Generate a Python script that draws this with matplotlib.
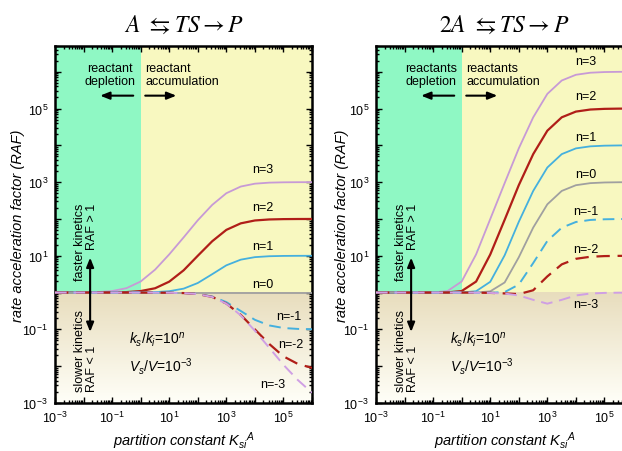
"""Rate acceleration factor vs partition constant for A and 2A reaction schemes."""

import numpy as np
import matplotlib
matplotlib.use('Agg')
import matplotlib.pyplot as plt
from matplotlib.colors import LinearSegmentedColormap
from matplotlib.ticker import LogLocator, NullFormatter

plt.rcParams['font.family'] = ['Liberation Sans', 'DejaVu Sans']
plt.rcParams['mathtext.fontset'] = 'custom'
plt.rcParams['mathtext.rm'] = 'Liberation Sans'
plt.rcParams['mathtext.it'] = 'Liberation Sans:italic'

# partition constant samples (half-decade)
K = [1e-3, 3.2e-3, 1e-2, 3.2e-2, 0.1, 0.32, 1, 3.2, 10, 32, 100, 320,
     1e3, 3.2e3, 1e4, 3.2e4, 1e5, 3.2e5, 1e6]

N_LABELS = ['n=3', 'n=2', 'n=1', 'n=0', 'n=-1', 'n=-2', 'n=-3']

# A <-> TS -> P
RAF_A_N3 = [1.0, 1.003, 1.01, 1.03, 1.1, 1.32, 2.0, 4.2, 10.9, 31.6, 92, 241,
            500, 760, 909, 970, 990, 997, 999]
RAF_A_N2 = [1.0, 1.0, 1.0, 1.003, 1.01, 1.03, 1.1, 1.31, 1.98, 4.03, 10.0, 24.8,
            50.5, 76, 91, 97, 99, 99.7, 99.9]
RAF_A_N1 = [1.0, 1.0, 1.0, 1.0, 1.0, 1.003, 1.01, 1.03, 1.09, 1.28, 1.82, 3.16,
            5.5, 7.84, 9.18, 9.72, 9.91, 9.97, 9.99]
RAF_A_N0 = [1.0] * 19
RAF_A_NM1 = [1.0, 1.0, 1.0, 1.0, 1.0, 1.0, 1.0, 0.997, 0.991, 0.972, 0.918, 0.784,
             0.55, 0.316, 0.182, 0.128, 0.109, 0.103, 0.101]
RAF_A_NM2 = [1.0, 1.0, 1.0, 1.0, 1.0, 1.0, 1.0, 0.997, 0.99, 0.97, 0.91, 0.762,
             0.505, 0.248, 0.10, 0.040, 0.0185, 0.0115, 0.009]
RAF_A_NM3 = [1.0, 1.0, 1.0, 1.0, 1.0, 1.0, 1.0, 0.997, 0.99, 0.969, 0.909, 0.76,
             0.50, 0.241, 0.092, 0.0316, 0.0109, 0.0042, 0.0019]

# 2A <-> TS -> P
RAF_2A_N3 = [1.0, 1.0, 1.0, 1.001, 1.01, 1.1, 2.0, 10.9, 99, 941, 8265, 5.77e4,
             2.5e5, 5.78e5, 8.26e5, 9.4e5, 9.8e5, 9.94e5, 9.98e5]
RAF_2A_N2 = [1.0, 1.0, 1.0, 1.0, 1.001, 1.01, 1.1, 1.99, 10.8, 94.9, 827, 5774,
             2.5e4, 5.78e4, 8.26e4, 9.4e4, 9.8e4, 9.94e4, 9.98e4]
RAF_2A_N1 = [1.0, 1.0, 1.0, 1.0, 1.0, 1.001, 1.008, 1.09, 1.96, 10.3, 83.5, 578,
             2500, 5780, 8264, 9400, 9800, 9940, 9980]
RAF_2A_N0 = [1.0, 1.0, 1.0, 1.0, 1.0, 1.0, 1.0, 1.004, 1.08, 1.88, 9.09, 58.3,
             250, 578, 826, 940, 980, 994, 998]
RAF_2A_NM1 = [1.0, 1.0, 1.0, 1.0, 1.0, 1.0, 1.0, 0.995, 0.99, 1.03, 1.65, 6.35,
              25.3, 57.9, 82.7, 94, 98, 99.4, 99.8]
RAF_2A_NM2 = [1.0, 1.0, 1.0, 1.0, 1.0, 1.0, 1.0, 0.994, 0.981, 0.949, 0.909, 1.155,
              2.75, 5.84, 8.27, 9.4, 9.8, 9.94, 9.98]
RAF_2A_NM3 = [1.0, 1.0, 1.0, 1.0, 1.0, 1.0, 1.0, 0.994, 0.98, 0.941, 0.835, 0.635,
              0.50, 0.636, 0.835, 0.941, 0.98, 0.994, 0.998]

XLIM = (1e-3, 1e6)
YLIM = (1e-3, 5e6)

GREEN = '#8ff8c4'
YELLOW = '#f8f8c0'
TAN_TOP = '#e8ddbd'
TAN_BOTTOM = '#fffff8'

PURPLE = '#c79ad6'
RED = '#b01e18'
BLUE = '#45b0de'
GREY = '#a0a0a0'
DASH = (0, (6, 3.5))
STYLES = [(PURPLE, '-', 1.3), (RED, '-', 1.6), (BLUE, '-', 1.3), (GREY, '-', 1.3),
          (BLUE, DASH, 1.4), (RED, DASH, 1.6), ('#cf9fe4', DASH, 1.4)]


def paint_background(ax):
    lo, hi = np.log10(YLIM)
    f = (0 - lo) / (hi - lo)
    ax.axvspan(XLIM[0], 1, ymin=f, ymax=1, color=GREEN, lw=0, zorder=0)
    ax.axvspan(1, XLIM[1], ymin=f, ymax=1, color=YELLOW, lw=0, zorder=0)
    cmap = LinearSegmentedColormap.from_list('tan', [TAN_BOTTOM, TAN_TOP])
    grad = np.linspace(0, 1, 256)[:, None]
    ax.imshow(grad, cmap=cmap, extent=[0, 1, 0, f], transform=ax.transAxes,
              aspect='auto', origin='lower', zorder=0)


def arrow(ax, tail, head):
    ax.annotate('', xy=head, xytext=tail,
                arrowprops=dict(arrowstyle='-|>,head_length=0.55,head_width=0.22',
                                lw=1.5, color='k', shrinkA=0, shrinkB=0))


def draw_panel(ax, curves, title, label_pos, plural):
    paint_background(ax)
    for raf, (c, ls, lw) in zip(curves, STYLES):
        ax.plot(K, raf, color=c, ls=ls, lw=lw, zorder=3)
    for txt, (x, y) in zip(N_LABELS, label_pos):
        ax.text(x, y, txt, fontsize=9, ha='center', va='center', zorder=4)

    ax.set_xscale('log')
    ax.set_yscale('log')
    ax.set_xlim(*XLIM)
    ax.set_ylim(*YLIM)

    s = 's' if plural else ''
    ax.text(10 ** -1.07, 10 ** 5.93, f'reactant{s}\ndepletion', fontsize=9,
            ha='center', va='center', linespacing=1.05)
    ax.text(10 ** 0.16, 10 ** 5.93, f'reactant{s}\naccumulation', fontsize=9,
            ha='left', va='center', linespacing=1.05)
    arrow(ax, (10 ** -0.26, 10 ** 5.35), (10 ** -1.42, 10 ** 5.35))
    arrow(ax, (10 ** 0.16, 10 ** 5.35), (10 ** 1.25, 10 ** 5.35))

    ax.text(10 ** -1.91, 10 ** 2.45, 'faster kinetics\nRAF > 1', fontsize=9,
            rotation=90, ha='center', va='top', multialignment='right',
            linespacing=1.05)
    ax.text(10 ** -1.91, 10 ** -2.67, 'slower kinetics\nRAF < 1', fontsize=9,
            rotation=90, ha='center', va='bottom', multialignment='left',
            linespacing=1.05)
    arrow(ax, (10 ** -1.77, 1.0), (10 ** -1.77, 10 ** 0.95))
    arrow(ax, (10 ** -1.77, 1.0), (10 ** -1.77, 10 ** -1.07))

    ax.text(10 ** -0.4, 10 ** -1.26, r'$k_s/k_i$=10$^n$', fontsize=10,
            ha='left', va='center')
    ax.text(10 ** -0.4, 10 ** -1.99, r'$V_s/V$=10$^{-3}$', fontsize=10,
            ha='left', va='center')

    majors = 10.0 ** np.arange(-3, 7)
    ax.set_xticks(majors)
    ax.set_xticklabels([f'$10^{{{e}}}$' if e % 2 else '' for e in range(-3, 7)])
    ax.set_yticks(majors)
    ax.set_yticklabels([f'$10^{{{e}}}$' if e % 2 else '' for e in range(-3, 7)])
    for axis in (ax.xaxis, ax.yaxis):
        axis.set_minor_locator(LogLocator(base=10, subs=np.arange(2, 10), numticks=20))
        axis.set_minor_formatter(NullFormatter())
    ax.set_xlim(*XLIM)
    ax.set_ylim(*YLIM)
    ax.tick_params(which='both', direction='in', top=True, right=True,
                   labelsize=9, width=1.0)
    ax.tick_params(which='major', length=4.5, pad=5)
    ax.tick_params(which='minor', length=2.5)
    for sp in ax.spines.values():
        sp.set_linewidth(1.8)

    ax.set_xlabel(r'partition constant $\mathit{K}_{\mathit{si}}{}^{\mathit{A}}$',
                  fontsize=10.5, fontstyle='italic', labelpad=3)
    ax.set_ylabel('rate acceleration factor (RAF)', fontsize=10.5,
                  fontstyle='italic')
    ax.set_title(title, math_fontfamily='stix', fontsize=17, pad=11)


fig = plt.figure(figsize=(6.22, 4.52), dpi=100)
ax1 = fig.add_axes([55 / 622, 48 / 452, 257 / 622, 357 / 452])
ax2 = fig.add_axes([376 / 622, 48 / 452, 257 / 622, 357 / 452])

pos_a = [(10 ** 4.26, 10 ** 3.37), (10 ** 4.26, 10 ** 2.33), (10 ** 4.26, 10 ** 1.27),
         (10 ** 4.26, 10 ** 0.24), (10 ** 5.18, 10 ** -0.63), (10 ** 5.25, 10 ** -1.39),
         (10 ** 4.61, 10 ** -2.48)]
pos_2a = [(10 ** 4.33, 10 ** 6.28), (10 ** 4.33, 10 ** 5.33), (10 ** 4.33, 10 ** 4.24),
          (10 ** 4.33, 10 ** 3.23), (10 ** 4.33, 10 ** 2.22), (10 ** 4.33, 10 ** 1.19),
          (10 ** 4.33, 10 ** -0.31)]

draw_panel(ax1, [RAF_A_N3, RAF_A_N2, RAF_A_N1, RAF_A_N0, RAF_A_NM1, RAF_A_NM2, RAF_A_NM3],
           r'$A\ \leftrightarrows TS\rightarrow P$', pos_a, plural=False)
draw_panel(ax2, [RAF_2A_N3, RAF_2A_N2, RAF_2A_N1, RAF_2A_N0, RAF_2A_NM1, RAF_2A_NM2,
                 RAF_2A_NM3],
           r'$2A\ \leftrightarrows TS\rightarrow P$', pos_2a, plural=True)

ax1.yaxis.set_label_coords(-0.117, 0.5)
ax2.yaxis.set_label_coords(-0.105, 0.5)

fig.savefig('out.png', dpi=100)
